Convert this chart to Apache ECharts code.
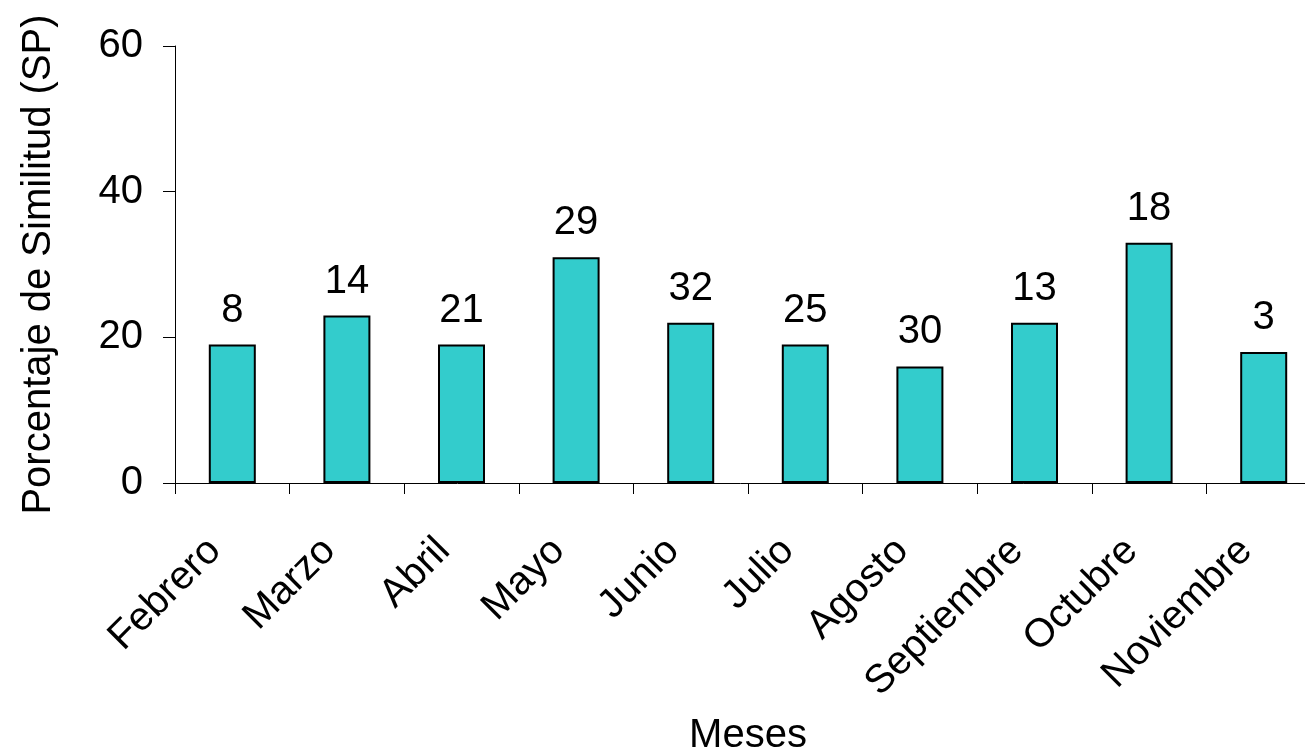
<!DOCTYPE html>
<html><head><meta charset="utf-8">
<script src="https://cdn.jsdelivr.net/npm/echarts@6/dist/echarts.min.js"></script>
<style>html,body{margin:0;padding:0;background:#fff}#c{width:1305px;height:755px}</style>
</head><body><div id="c"></div>
<script>
const categories = ['Febrero','Marzo','Abril','Mayo','Junio','Julio','Agosto','Septiembre','Octubre','Noviembre'];
const values = [19, 23, 19, 31, 22, 19, 16, 22, 33, 18];
const barLabels = [8, 14, 21, 29, 32, 25, 30, 13, 18, 3];
const yTicks = [0, 20, 40, 60];

const chart = echarts.init(document.getElementById('c'));
const font = 'Liberation Sans, Arial, sans-serif';
chart.setOption({
  animation: false,
  grid: {left: 175, width: 1146, top: 46, bottom: 272, containLabel: false, outerBoundsMode: 'none'},
  xAxis: {
    type: 'category', data: categories,
    name: 'Meses', nameLocation: 'middle', nameGap: 233,
    nameTextStyle: {fontFamily: font, fontSize: 40, color: '#000'},
    axisLine: {lineStyle: {color: '#000', width: 1}},
    axisTick: {show: true, length: 11, lineStyle: {color: '#000'}},
    axisLabel: {rotate: 45, fontFamily: font, fontSize: 40, color: '#000', margin: 44,
      padding: [0, 25, 0, 0]}
  },
  yAxis: {
    type: 'value', min: 0, max: 60, interval: 20,
    name: 'Porcentaje de Similitud (SP)', nameLocation: 'middle', nameGap: 116,
    nameTextStyle: {fontFamily: font, fontSize: 40, color: '#000'},
    axisLine: {show: true, lineStyle: {color: '#000', width: 1}},
    axisTick: {show: true, length: 12, inside: false, lineStyle: {color: '#000'}},
    splitLine: {show: false},
    axisLabel: {fontFamily: font, fontSize: 40, color: '#000', margin: 32,
      formatter: v => yTicks.includes(v) ? String(v) : ''}
  },
  series: [{
    type: 'bar', barWidth: 47,
    data: values,
    itemStyle: {color: '#33CCCC', borderColor: '#000', borderWidth: 2},
    label: {show: true, position: 'top', distance: 14, fontFamily: font, fontSize: 40, color: '#000',
      formatter: p => String(barLabels[p.dataIndex])}
  }]
});
</script></body></html>
